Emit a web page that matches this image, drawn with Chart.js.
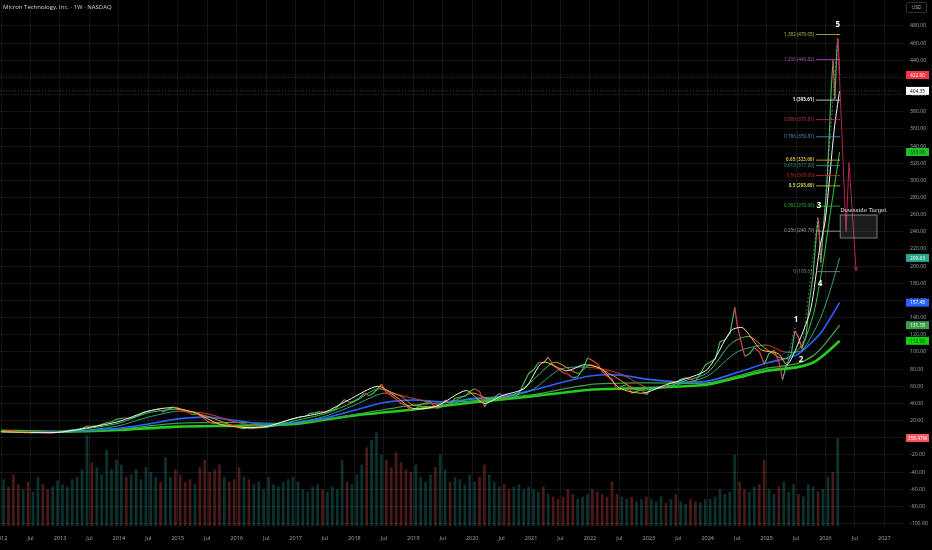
<!DOCTYPE html>
<html>
<head>
<meta charset="utf-8">
<title>Micron Technology, Inc. · 1W · NASDAQ</title>
<script src="https://cdn.jsdelivr.net/npm/chart.js@4.4.1/dist/chart.umd.min.js"></script>
<style>
	html, body { margin: 0; padding: 0; background: #000; }
	#wrap { position: relative; width: 932px; height: 550px; }
	#title { position: absolute; left: 3px; top: 3px; font: 6px "Open Sans", sans-serif; color: #d1d4dc; white-space: nowrap; }
	#usd { position: absolute; left: 906px; top: 2px; width: 19px; height: 9px; border: 1px solid #2a2e39; border-radius: 2px;
		font: 5px "Open Sans", sans-serif; color: #b2b5be; text-align: center; line-height: 9px; background: #000; }
</style>
</head>
<body>
<div id="wrap">
	<canvas id="muChart"></canvas>
	<div id="title">Micron Technology, Inc. · 1W · NASDAQ</div>
	<div id="usd">USD</div>
</div>
<script>
// weekly closes, sampled (decimal year, USD)
const priceDates = [
	2011.99, 2012.08, 2012.17, 2012.27, 2012.38, 2012.46, 2012.58, 2012.67, 2012.77, 2012.88, 2012.96,
	2013.08, 2013.17, 2013.29, 2013.38, 2013.46, 2013.54, 2013.63, 2013.71, 2013.79, 2013.88, 2013.96,
	2014.08, 2014.17, 2014.25, 2014.33, 2014.42, 2014.50, 2014.58, 2014.67, 2014.75, 2014.83, 2014.92,
	2015.00, 2015.08, 2015.17, 2015.25, 2015.33, 2015.42, 2015.50, 2015.58, 2015.67, 2015.75, 2015.83, 2015.92,
	2016.00, 2016.08, 2016.17, 2016.25, 2016.33, 2016.42, 2016.50, 2016.58, 2016.67, 2016.75, 2016.83, 2016.92,
	2017.00, 2017.08, 2017.17, 2017.25, 2017.33, 2017.42, 2017.50, 2017.58, 2017.67, 2017.75, 2017.83, 2017.92,
	2018.00, 2018.08, 2018.17, 2018.25, 2018.33, 2018.42, 2018.46, 2018.54, 2018.63, 2018.71, 2018.79, 2018.88, 2018.96,
	2019.04, 2019.13, 2019.21, 2019.29, 2019.38, 2019.46, 2019.54, 2019.63, 2019.71, 2019.79, 2019.88, 2019.96,
	2020.04, 2020.13, 2020.21, 2020.29, 2020.38, 2020.46, 2020.54, 2020.63, 2020.71, 2020.79, 2020.88, 2020.96,
	2021.04, 2021.13, 2021.21, 2021.29, 2021.38, 2021.46, 2021.54, 2021.63, 2021.71, 2021.79, 2021.88, 2021.96,
	2022.04, 2022.13, 2022.21, 2022.29, 2022.38, 2022.46, 2022.54, 2022.63, 2022.71, 2022.79, 2022.88, 2022.96,
	2023.04, 2023.13, 2023.21, 2023.29, 2023.38, 2023.46, 2023.54, 2023.63, 2023.71, 2023.79, 2023.88, 2023.96,
	2024.04, 2024.13, 2024.21, 2024.29, 2024.38, 2024.46, 2024.50, 2024.58, 2024.63, 2024.71, 2024.79, 2024.88, 2024.96,
	2025.04, 2025.13, 2025.21, 2025.27, 2025.33, 2025.42, 2025.48, 2025.54, 2025.60, 2025.67, 2025.73, 2025.79,
	2025.85, 2025.88, 2025.92, 2025.96, 2026.02, 2026.06, 2026.10, 2026.13, 2026.16, 2026.19, 2026.21, 2026.24,
];
const priceClose = [
	7.2, 8.3, 8.0, 7.2, 6.3, 6.0, 6.2, 6.3, 5.6, 5.5, 6.3,
	7.8, 8.8, 9.6, 11.0, 13.5, 13.2, 14.0, 15.5, 17.5, 18.6, 21.5,
	23.0, 22.5, 23.8, 26.0, 29.5, 31.0, 32.0, 33.5, 30.0, 33.0, 35.8,
	35.0, 31.5, 30.0, 27.0, 28.0, 24.0, 19.5, 17.0, 16.5, 15.5, 16.0, 14.5,
	13.0, 10.5, 11.0, 10.5, 11.5, 12.5, 13.0, 14.0, 16.5, 17.5, 19.5, 21.5,
	22.5, 24.5, 25.0, 28.5, 29.0, 30.5, 29.5, 31.0, 33.0, 38.5, 44.5, 41.0,
	43.0, 46.0, 52.0, 49.0, 52.5, 59.0, 62.5, 53.0, 49.0, 45.0, 40.0, 37.5, 32.0,
	33.5, 39.0, 40.5, 42.5, 34.5, 35.0, 44.0, 40.0, 46.0, 47.5, 48.5, 54.0,
	57.0, 53.5, 36.0, 45.0, 47.0, 51.5, 48.0, 46.0, 47.5, 51.0, 64.0, 75.0,
	79.0, 88.0, 87.0, 94.0, 84.0, 80.0, 76.0, 74.0, 70.0, 71.0, 80.0, 93.0,
	90.0, 86.0, 77.0, 72.0, 68.0, 56.0, 60.0, 62.0, 52.0, 54.0, 56.0, 50.0,
	58.0, 58.0, 60.0, 59.0, 66.0, 64.0, 68.0, 70.0, 68.0, 66.0, 75.0, 85.0,
	88.0, 92.0, 112.0, 114.0, 122.0, 152.0, 132.0, 108.0, 95.0, 98.0, 105.0, 100.0, 86.0,
	98.0, 102.0, 88.0, 68.0, 82.0, 98.0, 124.0, 118.0, 104.0, 118.0, 160.0, 190.0,
	240.0, 255.0, 205.0, 240.0, 290.0, 345.0, 410.0, 440.0, 395.0, 445.0, 465.0, 422.9,
];

// moving averages
const ma10Dates = [2012.0, 2012.5, 2013.0, 2013.5, 2014.0, 2014.5, 2014.9, 2015.3, 2015.7, 2016.1, 2016.5, 2017.0, 2017.5, 2017.9,
	2018.4, 2018.7, 2019.0, 2019.4, 2019.9, 2020.2, 2020.5, 2020.9, 2021.2, 2021.6, 2021.9, 2022.2, 2022.5, 2022.9, 2023.3,
	2023.6, 2024.0, 2024.4, 2024.6, 2024.9, 2025.2, 2025.35, 2025.55, 2025.75, 2025.9, 2026.0, 2026.15, 2026.24];
const ma10Values = [7, 6, 6.5, 12, 19, 31, 35, 29, 16, 12, 13, 23, 30, 44,
	60, 48, 34, 37, 55, 40, 49, 58, 88, 78, 85, 80, 58, 52, 62,
	68, 80, 125, 128, 103, 98, 85, 112, 150, 220, 255, 360, 404.35];

const ma20Dates = [2012.0, 2012.5, 2013.0, 2013.5, 2014.0, 2014.5, 2015.0, 2015.5, 2016.0, 2016.5, 2017.0, 2017.5, 2018.0, 2018.4,
	2018.8, 2019.0, 2019.5, 2020.0, 2020.3, 2020.7, 2021.0, 2021.4, 2021.8, 2022.0, 2022.4, 2022.8, 2023.2, 2023.6, 2024.0,
	2024.4, 2024.7, 2025.0, 2025.3, 2025.6, 2025.8, 2025.95, 2026.1, 2026.24];
const ma20Values = [7, 6, 6.3, 11, 17, 29, 33, 25, 13, 12, 20, 28, 42, 57,
	48, 38, 37, 52, 45, 50, 65, 88, 75, 85, 72, 56, 58, 66, 76,
	110, 118, 103, 92, 108, 145, 200, 270, 333.08];

const ma50Dates = [2012.0, 2013.0, 2013.5, 2014.0, 2014.5, 2015.0, 2015.5, 2016.0, 2016.5, 2017.0, 2017.5, 2018.0, 2018.5,
	2019.0, 2019.5, 2020.0, 2020.5, 2021.0, 2021.5, 2022.0, 2022.5, 2023.0, 2023.5, 2024.0, 2024.5, 2025.0, 2025.3,
	2025.6, 2025.9, 2026.1, 2026.24];
const ma50Values = [7.5, 6.5, 9, 14, 24, 31, 28, 18, 13, 17, 25, 38, 52,
	46, 38, 46, 47, 55, 80, 82, 75, 58, 62, 72, 100, 108, 100,
	102, 137, 176, 209.63];

const ma100Dates = [2012.0, 2013.0, 2014.0, 2014.5, 2015.0, 2015.5, 2016.0, 2016.5, 2017.0, 2017.5, 2018.0, 2018.5, 2019.0,
	2019.5, 2020.0, 2020.5, 2021.0, 2021.5, 2022.0, 2022.5, 2023.0, 2023.5, 2024.0, 2024.5, 2025.0, 2025.5, 2025.75,
	2025.95, 2026.24];
const ma100Values = [7, 7, 11, 16, 22, 24, 20, 16, 18, 23, 32, 41, 44,
	42, 45, 48, 55, 64, 72, 73, 68, 65, 66, 76, 87, 96, 110,
	125, 157.48];

const ma150Dates = [2012.0, 2013.0, 2014.0, 2015.0, 2016.0, 2017.0, 2018.0, 2019.0, 2020.0, 2021.0, 2022.0, 2023.0, 2024.0,
	2024.5, 2025.0, 2025.5, 2025.8, 2026.0, 2026.24];
const ma150Values = [7.5, 7, 10, 17, 18, 17, 27, 38, 43, 50, 62, 64, 64,
	72, 81, 86, 96, 110, 131.18];

const ma200Dates = [2012.0, 2013.0, 2014.0, 2015.0, 2016.0, 2017.0, 2017.5, 2018.0, 2019.0, 2020.0, 2021.0, 2022.0, 2023.0,
	2024.0, 2024.5, 2025.0, 2025.5, 2025.8, 2026.0, 2026.24];
const ma200Values = [8, 7, 9, 13, 14, 16, 21, 26, 33, 41, 48, 56, 58,
	62, 70, 78, 82, 88, 98, 112.96];

// monthly volume, millions of shares (Jan 2012 .. Mar 2026)
const volumeStartYear = 2012;
const volumeM = [
	190, 160, 210, 170, 150, 180, 140, 200, 170, 150, 160, 185,
	170, 160, 190, 200, 230, 370, 260, 240, 210, 310, 230, 270,
	250, 200, 210, 230, 190, 240, 220, 200, 180, 280, 200, 230,
	210, 180, 190, 170, 240, 270, 220, 230, 250, 200, 180, 190,
	240, 200, 190, 170, 180, 150, 200, 170, 160, 180, 190, 200,
	180, 150, 140, 160, 170, 150, 140, 160, 150, 270, 180, 170,
	210, 250, 320, 350, 380, 290, 270, 240, 300, 260, 230, 220,
	250, 200, 180, 210, 240, 290, 230, 180, 200, 190, 170, 210,
	180, 200, 250, 210, 180, 160, 170, 150, 160, 170, 150, 160,
	150, 140, 160, 130, 120, 110, 120, 150, 130, 110, 120, 130,
	150, 140, 130, 120, 180, 130, 120, 110, 120, 100, 110, 120,
	110, 100, 120, 95, 110, 130, 100, 90, 110, 100, 95, 110,
	110, 120, 150, 130, 140, 290, 180, 150, 140, 160, 170, 270,
	150, 130, 160, 180, 140, 170, 130, 120, 170, 160, 140, 150,
	200, 220, 358.47,
];

// Fibonacci extension drawn on the last leg
const fibLevels = ["1.382", "1.236", "1", "0.886", "0.786", "0.65", "0.618", "0.56", "0.5", "0.382", "0.236", "0"];
const fibPrices = [470.05, 440.82, 393.61, 370.81, 350.81, 323.6, 317.2, 305.6, 293.6, 270.0, 240.79, 193.61];
const fibColors = ["#b9cc3c", "#c04ec4", "#e8e8e8", "#d0374c", "#3f9fd4", "#e0b030", "#2ba89a", "#e02424", "#c8d63a", "#28c228", "#a6a6a6", "#8c8c8c"];
const fibStart = 2025.823;
const fibEnd = 2026.25;

// Elliott wave count
const waveDates = [2025.5, 2025.585, 2025.89, 2025.91, 2026.21];
const wavePrices = [138, 90.6, 270, 180, 482];
const waveNames = ["1", "2", "3", "4", "5"];
const wavePathDates = [2025.27, 2025.48, 2025.6, 2025.87, 2025.92, 2026.21];
const wavePathPrices = [68, 128, 102, 258, 200, 470];

// projected path and target zone
const projDates = [2026.21, 2026.35, 2026.40, 2026.52];
const projPrices = [466, 240, 321, 195];
const targetBox = { t0: 2026.25, t1: 2026.876, p0: 259.6, p1: 232.8 };
const targetLabel = "Downside Target";

// last values shown on the price scale
const markValues = [422.9, 404.35, 333.08, 209.63, 157.48, 131.18, 112.96];
const markColors = ["#f23645", "#ffffff", "#1fbf2a", "#2aa58e", "#2962ff", "#3d9e4a", "#0fd10f"];
const markText = ["#ffffff", "#000000", "#063b0a", "#ffffff", "#ffffff", "#ffffff", "#063b0a"];
const lastVolume = 358.47;

const yearTicks = [2012, 2013, 2014, 2015, 2016, 2017, 2018, 2019, 2020, 2021, 2022, 2023, 2024, 2025, 2026, 2027];
const priceTicks = [-100, -80, -60, -40, -20, 0, 20, 40, 60, 80, 100, 120, 140, 160, 180, 200, 220, 240,
	260, 280, 300, 320, 340, 360, 380, 400, 420, 440, 460, 480];

const UP = "#45b35a";
const DOWN = "#e0404f";

const zip = (xs, ys) => xs.map((x, i) => ({ x: x, y: ys[i] }));

function priceNear(t) {
	let best = 0;
	priceDates.forEach((d, i) => {
		if (Math.abs(d - t) < Math.abs(priceDates[best] - t)) best = i;
	});
	return priceClose[best];
}

const volumeData = volumeM.map((v, i) => ({ x: volumeStartYear + (i + 0.5) / 12, y: v }));
const volumeColors = volumeM.map((v, i) => {
	const t0 = volumeStartYear + i / 12;
	return priceNear(t0 + 1 / 12) >= priceNear(t0) ? "rgba(38,166,154,0.3)" : "rgba(239,83,80,0.3)";
});

function maLine(label, dates, values, up, down, width) {
	return {
		label: label,
		data: zip(dates, values),
		borderColor: up,
		borderWidth: width,
		pointRadius: 0,
		tension: 0.25,
		segment: { borderColor: c => (c.p1.parsed.y >= c.p0.parsed.y ? up : down) },
	};
}

// no automatic edge padding: the plot runs to the canvas edges like the terminal
const noPadding = s => {
	s.paddingLeft = 0;
	s.paddingRight = 0;
	s.paddingTop = 0;
	s.paddingBottom = 0;
};

const overlay = {
	id: "overlay",
	beforeDatasetsDraw(chart) {
		const { ctx, chartArea, scales } = chart;
		ctx.save();
		ctx.setLineDash([1, 2]);
		ctx.lineWidth = 0.8;
		[[markValues[0], "rgba(242,54,69,0.5)"], [markValues[1], "rgba(255,255,255,0.3)"]].forEach(([v, c]) => {
			const py = scales.y.getPixelForValue(v);
			ctx.strokeStyle = c;
			ctx.beginPath();
			ctx.moveTo(chartArea.left, py);
			ctx.lineTo(chartArea.right, py);
			ctx.stroke();
		});
		ctx.restore();
	},
	afterDatasetsDraw(chart) {
		const { ctx, scales } = chart;
		const x = scales.x;
		const y = scales.y;
		ctx.save();

		// fib levels
		const fx0 = x.getPixelForValue(fibStart);
		const fx1 = x.getPixelForValue(fibEnd);
		ctx.textAlign = "right";
		ctx.textBaseline = "middle";
		fibLevels.forEach((lv, i) => {
			const py = y.getPixelForValue(fibPrices[i]);
			ctx.strokeStyle = fibColors[i];
			ctx.lineWidth = 0.8;
			ctx.beginPath();
			ctx.moveTo(fx0 + 1, py);
			ctx.lineTo(fx1, py);
			ctx.stroke();
			const bold = lv === "1" || lv === "0.65" || lv === "0.5" ? "bold " : "";
			ctx.font = bold + '4.6px "Open Sans", sans-serif';
			ctx.fillStyle = fibColors[i];
			ctx.fillText(`${lv} (${fibPrices[i].toFixed(2)})`, fx0 - 1, py);
		});

		// downside target zone
		const bx0 = x.getPixelForValue(targetBox.t0);
		const bx1 = x.getPixelForValue(targetBox.t1);
		const by0 = y.getPixelForValue(targetBox.p0);
		const by1 = y.getPixelForValue(targetBox.p1);
		ctx.fillStyle = "rgba(128,128,128,0.22)";
		ctx.fillRect(bx0, by0, bx1 - bx0, by1 - by0);
		ctx.strokeStyle = "rgba(200,200,200,0.7)";
		ctx.lineWidth = 0.8;
		ctx.strokeRect(bx0, by0, bx1 - bx0, by1 - by0);
		ctx.font = '5.4px "DejaVu Serif", serif';
		ctx.fillStyle = "#e6e6e6";
		ctx.textAlign = "left";
		ctx.textBaseline = "bottom";
		ctx.fillText(targetLabel, bx0, by0 - 2);

		// arrow head on projection
		const n = projDates.length;
		const ax = x.getPixelForValue(projDates[n - 1]);
		const ay = y.getPixelForValue(projPrices[n - 1]);
		const px = x.getPixelForValue(projDates[n - 2]);
		const py = y.getPixelForValue(projPrices[n - 2]);
		const ang = Math.atan2(ay - py, ax - px);
		ctx.strokeStyle = "#b3264f";
		ctx.lineWidth = 1;
		ctx.beginPath();
		ctx.moveTo(ax - 4 * Math.cos(ang - 0.5), ay - 4 * Math.sin(ang - 0.5));
		ctx.lineTo(ax, ay);
		ctx.lineTo(ax - 4 * Math.cos(ang + 0.5), ay - 4 * Math.sin(ang + 0.5));
		ctx.stroke();

		// wave count
		ctx.font = 'bold 8px "Open Sans", sans-serif';
		ctx.fillStyle = "#ffffff";
		ctx.textAlign = "center";
		ctx.textBaseline = "middle";
		waveNames.forEach((w, i) => {
			ctx.fillText(w, x.getPixelForValue(waveDates[i]), y.getPixelForValue(wavePrices[i]));
		});
		ctx.restore();
	},
	afterDraw(chart) {
		const { ctx, chartArea, scales } = chart;
		const left = chartArea.right + 3;
		ctx.save();
		ctx.font = '4.8px "Open Sans", sans-serif';
		ctx.textAlign = "center";
		ctx.textBaseline = "middle";
		const box = (py, bg, fg, txt) => {
			ctx.fillStyle = bg;
			ctx.fillRect(left, py - 4, 23, 8);
			ctx.fillStyle = fg;
			ctx.fillText(txt, left + 11.5, py + 0.3);
		};
		markValues.forEach((v, i) => box(scales.y.getPixelForValue(v), markColors[i], markText[i], v.toFixed(2)));
		box(scales.yv.getPixelForValue(lastVolume), "#f7525f", "#ffffff", lastVolume.toFixed(2) + "M");
		ctx.restore();
	},
};

const ctx = document.getElementById("muChart").getContext("2d");

new Chart(ctx, {
	type: "line",
	data: {
		datasets: [
			{
				label: "Projection",
				data: zip(projDates, projPrices),
				borderColor: "#b3264f",
				borderWidth: 1,
				pointRadius: 0,
			},
			{
				label: "Wave path",
				data: zip(wavePathDates, wavePathPrices),
				borderColor: "rgba(190,190,190,0.6)",
				borderWidth: 0.8,
				borderDash: [2, 2],
				pointRadius: 0,
			},
			maLine("MA 10", ma10Dates, ma10Values, "#f4f4f4", "#f2c94c", 1),
			{
				label: "MU",
				data: zip(priceDates, priceClose),
				borderColor: UP,
				borderWidth: 1.2,
				pointRadius: 0,
				segment: { borderColor: c => (c.p1.parsed.y >= c.p0.parsed.y ? UP : DOWN) },
			},
			maLine("MA 20", ma20Dates, ma20Values, "#38c93f", "#f08c2e", 1),
			maLine("MA 50", ma50Dates, ma50Values, "#2fa38c", "#d8402a", 1),
			maLine("MA 100", ma100Dates, ma100Values, "#2962ff", "#2962ff", 1.6),
			maLine("MA 150", ma150Dates, ma150Values, "#3d9e4a", "#3d9e4a", 1.3),
			maLine("MA 200", ma200Dates, ma200Values, "#22cc22", "#22cc22", 2.6),
			{
				type: "bar",
				label: "Volume",
				data: volumeData,
				yAxisID: "yv",
				backgroundColor: volumeColors,
				barPercentage: 0.55,
				categoryPercentage: 1,
				grouped: false,
			},
		],
	},
	options: {
		responsive: true,
		maintainAspectRatio: false,
		animation: false,
		layout: { padding: 0, autoPadding: false },
		plugins: {
			legend: { display: false },
			tooltip: { enabled: false },
		},
		scales: {
			x: {
				type: "linear",
				offset: false,
				min: 2011.981,
				max: 2027.317,
				afterFit: s => { s.height = 24; noPadding(s); },
				afterBuildTicks: s => {
					s.ticks = [];
					yearTicks.forEach(yr => {
						s.ticks.push({ value: yr });
						if (yr + 0.5 < s.max) s.ticks.push({ value: yr + 0.5 });
					});
				},
				grid: { offset: false, color: "rgba(255,255,255,0.08)", drawTicks: true, tickLength: 9, tickColor: "rgba(0,0,0,0)" },
				border: { display: false },
				ticks: {
					autoSkip: false,
					maxRotation: 0,
					padding: 0,
					color: "#a3a6af",
					font: { size: 5.5, family: "Open Sans" },
					callback: v => (v % 1 === 0 ? String(v) : "Jul"),
				},
			},
			y: {
				position: "right",
				min: -102.9,
				max: 510.3,
				afterFit: s => { s.width = 29; noPadding(s); },
				afterBuildTicks: s => { s.ticks = priceTicks.map(v => ({ value: v })); },
				grid: { color: "rgba(255,255,255,0.08)", drawTicks: false },
				border: { display: false },
				ticks: {
					padding: 7,
					color: "#a3a6af",
					font: { size: 5.2, family: "Open Sans" },
					callback: v => v.toFixed(2),
				},
			},
			yv: {
				display: false,
				min: 0,
				max: 2142,
				afterFit: noPadding,
			},
		},
	},
	plugins: [overlay],
});
</script>
</body>
</html>
